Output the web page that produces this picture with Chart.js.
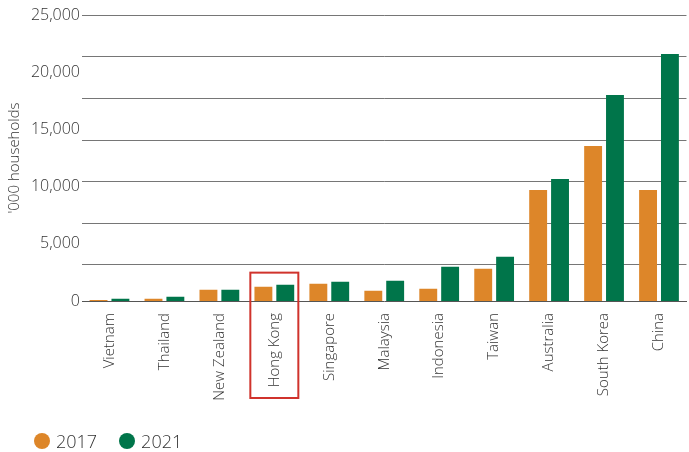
<!DOCTYPE html>
<html>
<head>
<meta charset="utf-8">
<script src="https://cdn.jsdelivr.net/npm/chart.js@4/dist/chart.umd.min.js"></script>
<style>
  html, body { margin: 0; padding: 0; background: #fff; }
  #wrap { position: relative; width: 689px; height: 452px; }
  #legend {
    position: absolute; left: 34px; top: 429px;
    display: flex; align-items: center;
    font-family: "Open Sans", sans-serif; font-weight: 300; font-size: 18px; color: #333;
  }
  .item { display: flex; align-items: center; margin-right: 22px; }
  .dot { width: 16px; height: 16px; border-radius: 50%; margin-right: 6px; }
</style>
</head>
<body>
<div id="wrap">
  <canvas id="c" width="689" height="452"></canvas>
  <div id="legend"></div>
</div>
<script>
// Households by market, thousands
const categories = ['Vietnam', 'Thailand', 'New Zealand', 'Hong Kong', 'Singapore',
  'Malaysia', 'Indonesia', 'Taiwan', 'Australia', 'South Korea', 'China'];
const series2017 = [80, 200, 990, 1250, 1510, 900, 1075, 2825, 9700, 13550, 9700];
const series2021 = [200, 380, 990, 1430, 1690, 1775, 3000, 3870, 10660, 18000, 21600];
const seriesNames = ['2017', '2021'];
const yTicks = [0, 5000, 10000, 15000, 20000, 25000];
const gridValues = [25000, 21360, 17720, 14070, 10430, 6790, 3150];
const highlighted = 'Hong Kong';

const ORANGE = '#dd8629';
const GREEN = '#00754a';
const FONT = '"Open Sans", sans-serif';
const TEXT = '#333';

// Red frame around the highlighted market and its label
const highlightBox = {
  id: 'highlightBox',
  afterDraw(chart) {
    const idx = categories.indexOf(highlighted);
    if (idx < 0) return;
    const x = chart.scales.x, y = chart.scales.y;
    const cx = x.getPixelForValue(idx);
    const top = y.getPixelForValue(Math.max(series2017[idx], series2021[idx])) - 12;
    const bottom = chart.chartArea.bottom + 97;
    const ctx = chart.ctx;
    ctx.save();
    ctx.strokeStyle = '#d0332c';
    ctx.lineWidth = 2;
    ctx.strokeRect(cx - 24, top, 48, bottom - top);
    ctx.restore();
  }
};

const chart = new Chart(document.getElementById('c'), {
  type: 'bar',
  data: {
    labels: categories,
    datasets: [
      { label: seriesNames[0], data: series2017, backgroundColor: ORANGE, yAxisID: 'y' },
      { label: seriesNames[1], data: series2021, backgroundColor: GREEN, yAxisID: 'y' }
    ]
  },
  options: {
    responsive: false,
    animation: false,
    devicePixelRatio: 1,
    layout: { padding: { top: 15, right: 0, bottom: 31, left: 0 } },
    datasets: { bar: { categoryPercentage: 0.796, barPercentage: 0.818 } },
    plugins: {
      legend: { display: false },
      tooltip: { enabled: false }
    },
    scales: {
      x: {
        grid: { display: true, color: 'transparent', drawTicks: false },
        border: { display: true, color: '#555', width: 1 },
        ticks: {
          autoSkip: false, minRotation: 90, maxRotation: 90, padding: 12,
          color: TEXT, font: { family: FONT, size: 15, weight: '300' }
        },
        afterFit(s) { s.height = 120; }
      },
      grid: {
        position: 'left',
        min: 0, max: 25000,
        afterBuildTicks(axis) { axis.ticks = gridValues.map(v => ({ value: v })); },
        ticks: { display: false },
        grid: { color: '#767676', lineWidth: 1, drawTicks: false },
        border: { display: false },
        afterFit(s) { s.width = 0; }
      },
      y: {
        position: 'left',
        min: 0, max: 25000,
        afterBuildTicks(axis) { axis.ticks = yTicks.map(v => ({ value: v })); },
        grid: { display: false, drawTicks: false },
        border: { display: false },
        ticks: {
          padding: 2, color: TEXT, font: { family: FONT, size: 16, weight: '300' },
          callback: v => v.toLocaleString('en-US')
        },
        title: {
          display: true, text: "'000 households", color: TEXT,
          font: { family: FONT, size: 15, weight: '300' }, padding: { top: 6, bottom: 0 }
        },
        afterFit(s) { s.width = 82; }
      }
    }
  },
  plugins: [highlightBox]
});

// Legend built from the chart's datasets
const legend = document.getElementById('legend');
chart.data.datasets.forEach(ds => {
  const item = document.createElement('div');
  item.className = 'item';
  const dot = document.createElement('span');
  dot.className = 'dot';
  dot.style.background = ds.backgroundColor;
  const txt = document.createElement('span');
  txt.textContent = ds.label;
  item.appendChild(dot);
  item.appendChild(txt);
  legend.appendChild(item);
});
</script>
</body>
</html>
